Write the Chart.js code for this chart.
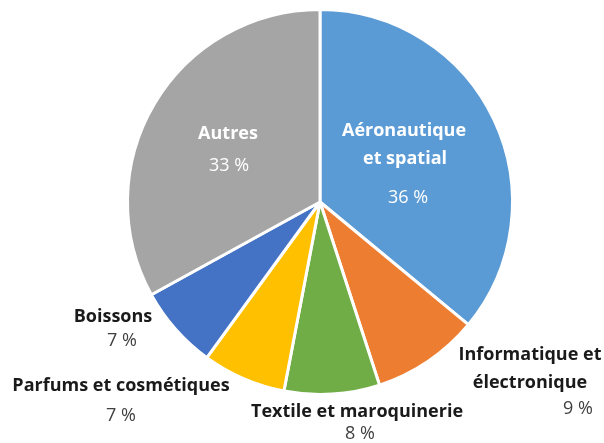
<!DOCTYPE html>
<html><head><meta charset="utf-8">
<script src="https://cdn.jsdelivr.net/npm/chart.js@4/dist/chart.umd.min.js"></script>
<style>html,body{margin:0;padding:0;background:#fff}#wrap{width:604px;height:443px;position:relative}</style>
</head><body><div id="wrap"><canvas id="c" width="604" height="443"></canvas></div>
<script>
const categories = ["Aéronautique et spatial","Informatique et électronique","Textile et maroquinerie","Parfums et cosmétiques","Boissons","Autres"];
const values = [36, 9, 8, 7, 7, 33];
const colors = ["#5B9BD5","#ED7D31","#70AD47","#FFC000","#4472C4","#A5A5A5"];
const labelLines = [
  ["Aéronautique","et spatial"],
  ["Informatique et","électronique"],
  ["Textile et maroquinerie"],
  ["Parfums et cosmétiques"],
  ["Boissons"],
  ["Autres"]
];
const valueLabels = values.map(v => v + " %");

// label placement relative to pie centre (offsets in px), style only
const labelLayout = [
  {names:[[84,-71],[85,-43]], val:[88,-4], color:"#fff"},
  {names:[[210,153],[210,181]], val:[258,207], color:"#000"},
  {names:[[37,210]], val:[40,232], color:"#000"},
  {names:[[-199,184]], val:[-199,214], color:"#000"},
  {names:[[-207,115]], val:[-198,139], color:"#000"},
  {names:[[-92,-68]], val:[-91,-36], color:"#fff"}
];

const labelPlugin = {
  id:'labels',
  afterDatasetsDraw(chart){
    const ctx = chart.ctx;
    const arc = chart.getDatasetMeta(0).data[0];
    const cx = arc.x, cy = arc.y;
    ctx.save();
    ctx.textAlign='center'; ctx.textBaseline='middle';
    labelLayout.forEach((L,i)=>{
      ctx.fillStyle = L.color === "#fff" ? "#fff" : "#1a1a1a";
      ctx.font = "bold 18px 'Open Sans'";
      labelLines[i].forEach((t,j)=>{ ctx.fillText(t, cx+L.names[j][0], cy+L.names[j][1]); });
      ctx.font = "18px 'Open Sans'";
      ctx.fillStyle = L.color === "#fff" ? "#fff" : "#404040";
      ctx.fillText(valueLabels[i], cx+L.val[0], cy+L.val[1]);
    });
    ctx.restore();
  }
};

new Chart(document.getElementById('c'), {
  type:'pie',
  data:{ labels:categories, datasets:[{ data:values, backgroundColor:colors, borderColor:"#fff", borderWidth:3 }]},
  options:{
    responsive:false, animation:false,
    layout:{ padding:{ left:126, right:90, top:8, bottom:47 } },
    plugins:{ legend:{display:false}, tooltip:{enabled:false} }
  },
  plugins:[labelPlugin]
});
</script></body></html>
